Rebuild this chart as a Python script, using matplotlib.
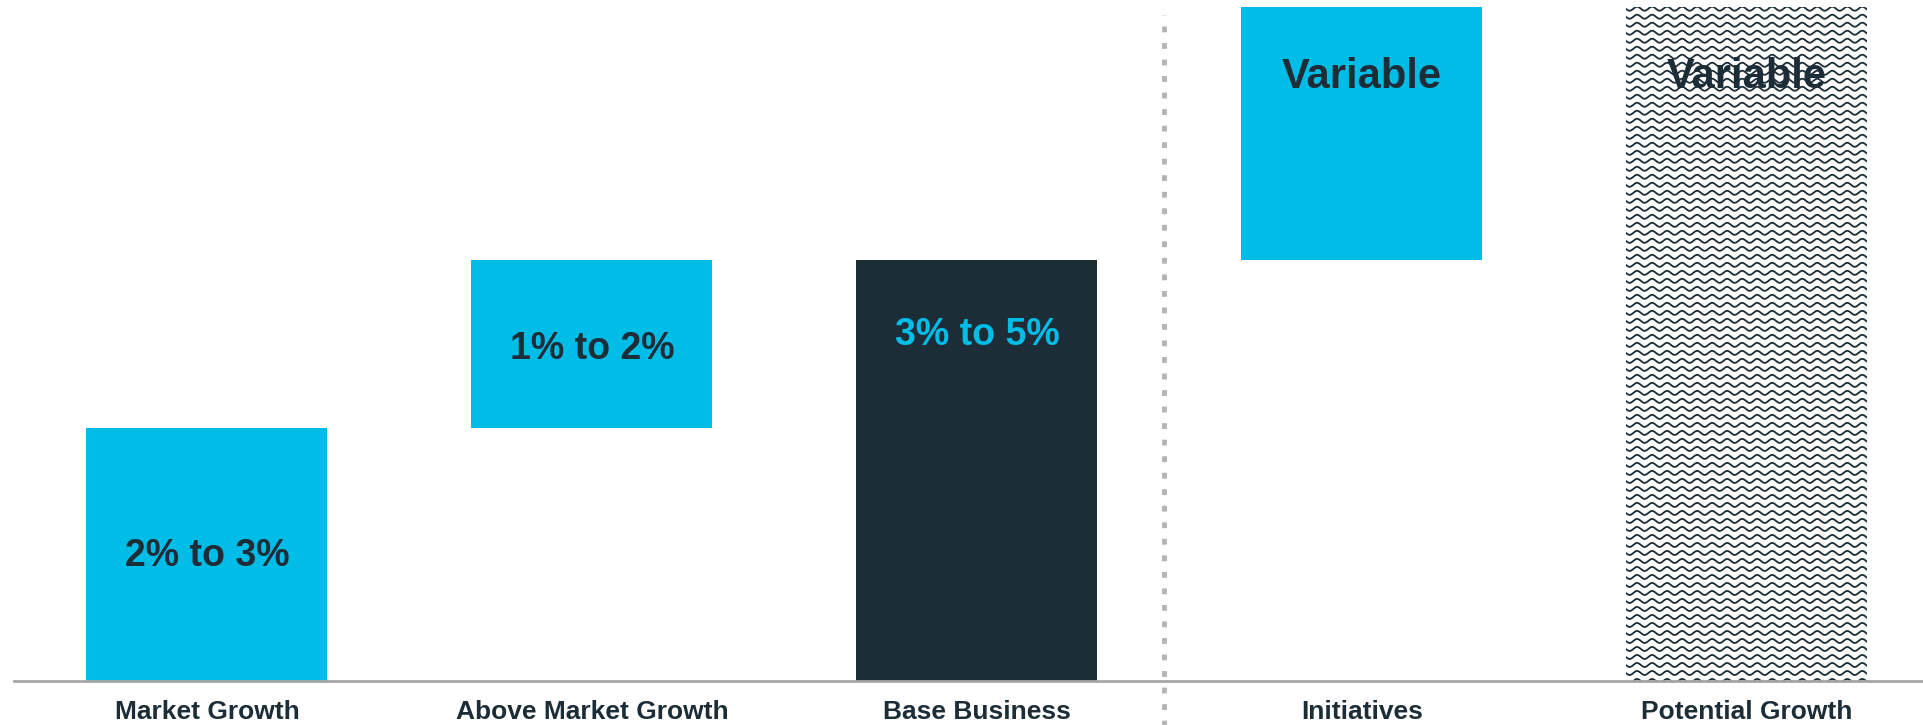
import numpy as np
import matplotlib.pyplot as plt

plt.rcParams['font.family'] = ['Liberation Sans', 'DejaVu Sans']

# palette
CYAN = "#00BDE7"
NAVY = "#1C2D38"
GREY = "#A6A6A6"

categories = ["Market Growth", "Above Market Growth", "Base Business",
              "Initiatives", "Potential Growth"]
bottoms = [0, 3, 0, 5, 0]
heights = [3, 2, 5, 3, 8]
labels = ["2% to 3%", "1% to 2%", "3% to 5%", "Variable", "Variable"]
label_y = [1.48, 3.94, 4.11, 7.17, 7.17]
label_size = [27, 27, 27, 30, 30]
styles = ["cyan", "cyan", "navy", "cyan", "hatch"]

fig = plt.figure(figsize=(19.24, 7.25), dpi=100)
ax = fig.add_axes([0.0073, 0.0607, 0.9927, 0.9296])
x = np.arange(len(categories))
width = 0.626

for xi, b, h, s, lab, ly, fs in zip(x, bottoms, heights, styles, labels,
                                    label_y, label_size):
    if s == "hatch":
        rect = ax.bar(xi, h, width, bottom=b, color="white", linewidth=0)[0]
        # wavy texture clipped to the bar
        xs = np.linspace(xi - width / 2 - 0.02, xi + width / 2 + 0.02, 600)
        wave = 0.024 * np.sin(2 * np.pi * xs / 0.039)
        for yy in np.arange(b, b + h + 0.1, 0.095):
            ln, = ax.plot(xs, yy + wave, color=NAVY, lw=1.3)
            ln.set_clip_path(rect)
        tc = NAVY
    else:
        fc = CYAN if s == "cyan" else NAVY
        ax.bar(xi, h, width, bottom=b, color=fc, linewidth=0)
        tc = NAVY if s == "cyan" else CYAN
    ax.text(xi, ly, lab, ha="center", va="center", fontsize=fs,
            fontweight="bold", color=tc)

# separator between base business and initiatives
ax.plot([2.486, 2.486], [-0.55, 7.91], color="#B4B4B4", lw=3.5,
        linestyle=(0, (1.2, 2.2)), clip_on=False)

ax.set_xlim(-0.501, 4.46)
ax.set_ylim(0, 8)
ax.set_xticks(x)
ax.set_xticklabels(categories, fontsize=19, fontweight="bold", color=NAVY)
ax.tick_params(axis="x", length=0, pad=14)
ax.set_yticks([])
for side in ("top", "right", "left"):
    ax.spines[side].set_visible(False)
ax.spines["bottom"].set_color(GREY)
ax.spines["bottom"].set_linewidth(2)

fig.savefig("out.png", dpi=100, facecolor="white")
